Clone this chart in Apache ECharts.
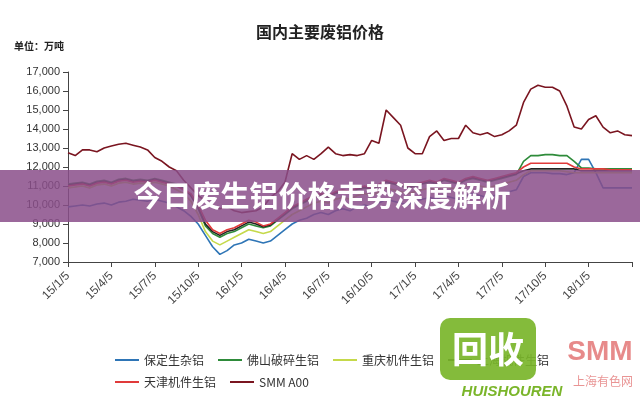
<!DOCTYPE html>
<html><head><meta charset="utf-8">
<script src="https://cdn.jsdelivr.net/npm/echarts@6/dist/echarts.min.js"></script>
<style>html,body{margin:0;padding:0;background:#fff}#c{width:640px;height:400px}</style>
</head><body><div id="c"></div>
<script>
const tickLabels=['15/1/5','15/4/5','15/7/5','15/10/5','16/1/5','16/4/5','16/7/5','16/10/5','17/1/5','17/4/5','17/7/5','17/10/5','18/1/5'];
const names=['保定生杂铝','佛山破碎生铝','重庆机件生铝','上海机件生铝','天津机件生铝','SMM A00'];
const baoding=[9900,9950,10000,9950,10050,10100,10000,10150,10200,10300,10250,10200,10300,10200,10100,9900,9700,9400,9000,8400,7800,7400,7600,7900,8000,8200,8100,8000,8100,8400,8700,9000,9200,9300,9500,9600,9500,9700,9800,9700,9900,10000,9900,10100,10300,10200,10100,10000,10200,10300,10400,10300,10500,10400,10300,10500,10600,10500,10400,10500,10600,10700,10800,11500,11700,11700,11700,11650,11650,11600,11700,12400,12400,11700,10900,10900,10900,10900,10900];
const foshan=[11100,11150,11200,11100,11250,11300,11200,11350,11400,11300,11350,11300,11400,11300,11200,11100,10900,10500,9800,8900,8500,8300,8500,8600,8800,9000,8900,8800,8900,9200,9500,9800,10000,10200,10400,10500,10400,10600,10700,10600,10800,10900,10800,11000,11200,11100,11000,10900,11000,11100,11200,11100,11300,11200,11100,11300,11400,11300,11200,11300,11400,11500,11600,12300,12600,12600,12650,12650,12600,12600,12300,11950,11950,11900,11900,11900,11900,11900,11900];
const chongqing=[10900,10950,11000,10900,11050,11100,11000,11150,11200,11100,11150,11100,11200,11100,11000,10800,10600,10200,9500,8600,8100,7900,8100,8300,8500,8700,8600,8500,8600,8900,9200,9500,9700,9900,10100,10200,10100,10300,10400,10300,10500,10600,10500,10700,10900,10800,10700,10600,10700,10800,10900,10800,11000,10900,10800,11000,11100,11000,10900,11000,11100,11200,11300,11600,11800,11800,11800,11800,11800,11750,11700,11700,11700,11700,11700,11700,11700,11700,11700];
const shanghai=[11050,11100,11150,11050,11200,11250,11150,11300,11350,11250,11300,11250,11350,11250,11150,11050,10850,10500,9900,9000,8600,8400,8600,8700,8900,9100,9000,8850,8950,9250,9550,9850,10050,10250,10450,10550,10450,10650,10750,10650,10850,10950,10850,11050,11250,11150,11050,10950,11050,11150,11250,11150,11350,11250,11150,11350,11450,11350,11250,11350,11450,11550,11650,11800,11900,11900,11900,11900,11900,11900,11900,11800,11800,11800,11800,11800,11800,11800,11800];
const tianjin=[11000,11050,11100,11000,11150,11200,11100,11250,11300,11200,11250,11200,11300,11200,11100,11000,10800,10600,10000,9200,8700,8500,8700,8800,9000,9200,9100,8900,9000,9300,9600,9900,10100,10300,10500,10600,10500,10700,10800,10700,10900,11000,10900,11100,11300,11200,11100,11000,11100,11200,11300,11200,11400,11300,11200,11400,11500,11400,11300,11400,11500,11600,11700,12000,12200,12200,12200,12200,12200,12200,12000,11900,11900,11900,11900,11850,11850,11850,11850];
const smm=[12750,12600,12900,12900,12800,13000,13100,13200,13250,13150,13050,12900,12500,12300,12000,11800,11300,10900,10500,10200,10000,9800,9900,9700,9600,9650,9700,9900,10400,10700,11200,12700,12400,12600,12400,12700,13050,12700,12600,12650,12600,12700,13400,13250,15000,14600,14200,13000,12700,12700,13600,13900,13400,13500,13500,14200,13800,13700,13800,13600,13700,13900,14200,15400,16100,16300,16200,16200,16000,15200,14100,14000,14500,14700,14100,13800,13900,13700,13650];
const seriesData=[baoding,foshan,chongqing,shanghai,tianjin,smm];
const colors=['#2e75b6','#2e8b3a','#c5d94a','#222222','#e03a3a','#7a1520'];
const cats=smm.map((_,i)=>String(i));
const chart=echarts.init(document.getElementById('c'));
const ff='"Noto Sans CJK SC", sans-serif';
chart.setOption({
  animation:false,
  title:{text:'国内主要废铝价格',left:'center',top:19,textStyle:{fontSize:16,fontWeight:'bold',color:'#222',fontFamily:ff}},
  graphic:[
    {type:'text',left:14,top:41,style:{text:'单位：万吨',font:'bold 10px '+ff,fill:'#222'}},
    {type:'rect',left:0,top:170,z:100,shape:{width:640,height:52},style:{fill:'rgba(138,78,138,0.85)'}},
    {type:'text',x:322,y:196,z:101,style:{text:'今日废生铝价格走势深度解析',align:'center',verticalAlign:'middle',fill:'#fff',font:'bold 29px '+ff,shadowBlur:4,shadowColor:'rgba(0,0,0,0.5)'}},
    {type:'rect',left:440,top:318,z:100,shape:{width:96,height:62,r:10},style:{fill:'rgba(122,181,42,0.92)'}},
    {type:'text',x:488,y:349,z:101,style:{text:'回收',align:'center',verticalAlign:'middle',fill:'#fff',font:'bold 36px '+ff}},
    {type:'text',x:512,y:392,z:101,style:{text:'HUISHOUREN',align:'center',verticalAlign:'middle',fill:'#7ab52a',font:'italic bold 15px sans-serif'}},
    {type:'text',x:600,y:352,z:99,style:{text:'SMM',align:'center',verticalAlign:'middle',fill:'rgba(215,60,60,0.6)',font:'bold 28px sans-serif'}},
    {type:'text',x:603,y:381,z:99,style:{text:'上海有色网',align:'center',verticalAlign:'middle',fill:'rgba(215,60,60,0.55)',font:'12px '+ff}}
  ],
  legend:[
    {data:names.slice(0,4),left:110,top:349,itemWidth:24,itemHeight:2,icon:'rect',itemGap:14,textStyle:{fontSize:12,color:'#333',fontFamily:ff}},
    {data:names.slice(4),left:110,top:371,itemWidth:24,itemHeight:2,icon:'rect',itemGap:14,textStyle:{fontSize:12,color:'#333',fontFamily:ff}}
  ],
  grid:{left:68,right:8,top:72,bottom:138},
  xAxis:{type:'category',data:cats,boundaryGap:false,
    axisLine:{lineStyle:{color:'#444'}},
    axisTick:{interval:5,lineStyle:{color:'#444'}},
    axisLabel:{interval:5,rotate:45,fontSize:12,color:'#444',margin:12,fontFamily:'"Liberation Sans", sans-serif',formatter:(v,i)=>tickLabels[i/6]||''}},
  yAxis:{type:'value',min:7000,max:17000,interval:1000,splitLine:{show:false},
    axisLine:{show:true,lineStyle:{color:'#444'}},axisTick:{show:true,lineStyle:{color:'#444'}},
    axisLabel:{fontSize:11,color:'#333',fontFamily:'"Liberation Sans", sans-serif',formatter:v=>v.toLocaleString('en-US')}},
  series:names.map((n,k)=>({name:n,type:'line',data:seriesData[k],showSymbol:false,lineStyle:{width:1.6,color:colors[k]},itemStyle:{color:colors[k]}}))
});
</script></body></html>
